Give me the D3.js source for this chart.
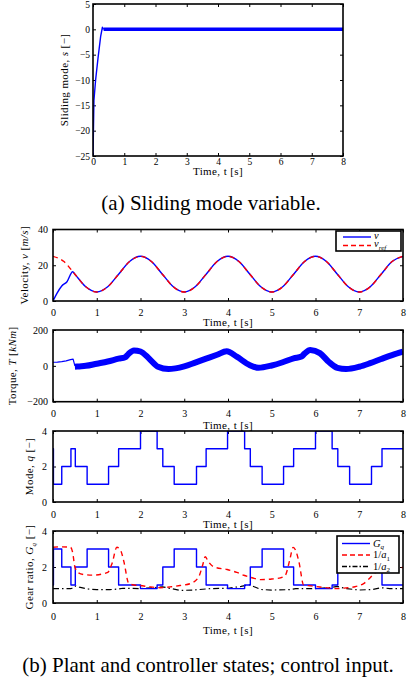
<!DOCTYPE html>
<html>
<head>
<meta charset="utf-8">
<script src="https://d3js.org/d3.v7.min.js"></script>
<style>
  body { margin: 0; background: #fff; }
  svg text, svg .tick text { font-family: "Liberation Serif", "Times New Roman", Times, "DejaVu Serif", serif; fill: #000; }
  .tick line { stroke: #000; }
  .lbl { font-size: 11px; letter-spacing: 0.4px; }
  .leg { font-size: 10.5px; }
  .cap { font-size: 21px; }
</style>
</head>
<body>
<svg width="409" height="681"></svg>
<script>
// time axis
const timeTicks = [0, 1, 2, 3, 4, 5, 6, 7, 8];

// (a) sliding mode variable s
const slideT = [0, 0.03, 0.085, 0.16, 0.245, 0.3, 0.34];
const slideS = [-25, -14, -9.9, -5.7, -1.4, 0.4, 0];
const chatterT = [0.34, 8];
const chatterS = [0, 0];

// velocity reference and measured velocity
const refT = [0,0.25,0.5,0.75,1,1.25,1.5,1.75,2,2.25,2.5,2.75,3,3.25,3.5,3.75,4,4.25,4.5,4.75,5,5.25,5.5,5.75,6,6.25,6.5,6.75,7,7.25,7.5,7.75,8];
const refV = [25,22.07,15,7.93,5,7.93,15,22.07,25,22.07,15,7.93,5,7.93,15,22.07,25,22.07,15,7.93,5,7.93,15,22.07,25,22.07,15,7.93,5,7.93,15,22.07,25];
const velT = [0,0.09,0.2,0.32,0.45,0.5,0.75,1,1.25,1.5,1.75,2,2.25,2.5,2.75,3,3.25,3.5,3.75,4,4.25,4.5,4.75,5,5.25,5.5,5.75,6,6.25,6.5,6.75,7,7.25,7.5,7.75,8];
const velV = [0,4.3,8.4,10.8,16.4,15,7.93,5,7.93,15,22.07,25,22.07,15,7.93,5,7.93,15,22.07,25,22.07,15,7.93,5,7.93,15,22.07,25,22.07,15,7.93,5,7.93,15,22.07,25];

// torque: start-up segment and chattering band centre
const tqStartT = [0, 0.1, 0.2, 0.3, 0.4, 0.46, 0.5];
const tqStartV = [20, 21, 24, 28, 35, 38, 0];
const bandT = [0.5,0.6,0.75,1.0,1.25,1.5,1.65,1.72,1.85,2.0,2.2,2.4,2.64,2.8,3.0,3.25,3.5,3.75,3.97,4.2,4.5,4.7,5.0,5.25,5.5,5.68,5.75,5.88,6.1,6.3,6.5,6.7,7.0,7.25,7.5,7.75,8.0];
const bandV = [-5,-3,0,12,24,40,48,65,86,80,40,-5,-18,-14,-3,18,40,62,81,51,4,-11,2,20,42,52,68,88,71,23,-11,-18,-5,15,38,60,79];

// mode q (switching instants)
const modeT = [0,0.01,0.2,0.41,0.51,0.78,1.27,1.5,2.0,2.38,2.51,2.77,3.28,3.5,3.99,4.38,4.51,4.78,5.27,5.5,6.0,6.38,6.51,6.78,7.28,7.52];
const modeQ = [3,1,2,3,2,1,2,3,4,3,2,1,2,3,4,3,2,1,2,3,4,3,2,1,2,3];
// gear ratio for q = 1..4
const gearOfMode = [3, 2, 1, 0.8];

// 1/a1 and 1/a2
const a1T = [0,0.2,0.4,0.45,0.5,0.58,0.7,0.9,1.1,1.25,1.35,1.46,1.55,1.62,1.73,1.85,2.0,2.2,2.45,2.7,2.9,3.14,3.33,3.42,3.48,3.55,3.68,3.98,4.2,4.36,4.55,4.74,5.0,5.2,5.31,5.41,5.49,5.55,5.62,5.73,5.9,6.1,6.3,6.49,6.7,6.87,7.1,7.3,7.45,7.52,7.6,7.7,7.85,8];
const a1V = [3.1,3.12,3.1,2.8,2.0,1.68,1.58,1.55,1.6,1.7,2.2,3.1,2.9,2.3,1.1,1.0,0.97,0.9,0.85,0.9,0.97,1.08,1.45,2.1,2.57,2.3,2.0,1.86,1.7,1.54,1.4,1.3,1.33,1.4,1.54,2.38,3.09,2.9,2.3,1.0,0.95,0.89,0.84,0.8,0.84,0.89,1.08,1.54,2.0,2.6,3.0,2.4,2.0,1.97];
const a2T = [0,0.4,0.45,0.52,0.6,0.8,1.0,1.3,1.5,1.6,2.0,2.3,2.5,2.7,2.9,3.2,3.5,3.6,4.0,4.3,4.5,4.6,4.75,5.0,5.4,5.55,6.0,6.3,6.5,6.7,7.0,7.3,7.5,7.7,8.0];
const a2V = [0.8,0.8,0.82,0.95,0.88,0.78,0.74,0.74,0.78,0.82,0.8,0.85,0.9,0.8,0.7,0.72,0.78,0.8,0.82,0.92,1.02,0.9,0.75,0.72,0.74,0.8,0.8,0.85,0.92,0.8,0.72,0.75,0.85,0.8,0.8];

const svg = d3.select("svg");
const blue = "#0000ff", red = "#ff0000";
let clipId = 0;

// write text pieces; subscripts drop by dy and come back up
function addParts(t, parts) {
  let down = false;
  parts.forEach(p => {
    const s = t.append("tspan").text(p.t);
    if (p.i) s.attr("font-style", "italic");
    if (p.sub) { s.attr("font-size", "7px"); if (!down) { s.attr("dy", 2.5); down = true; } }
    else if (down) { s.attr("dy", -2.5); down = false; }
  });
}

function panel(c) {
  const x = d3.scaleLinear().domain([0, 8]).range([c.x0, c.x1]);
  const y = d3.scaleLinear().domain(c.yDom).range([c.y1, c.y0]);
  const g = svg.append("g");
  const id = "clip" + (clipId++);
  g.append("clipPath").attr("id", id).append("rect")
    .attr("x", c.x0).attr("y", c.y0).attr("width", c.x1 - c.x0).attr("height", c.y1 - c.y0);

  const fs = c.tickFs || 10;
  g.append("g").attr("transform", `translate(0,${c.y1})`)
    .call(d3.axisBottom(x).tickValues(timeTicks).tickSize(-3).tickPadding(c.xPad).tickFormat(d3.format("d")));
  g.append("g").attr("transform", `translate(0,${c.y0})`)
    .call(d3.axisTop(x).tickValues(timeTicks).tickSize(-3).tickFormat(""));
  g.append("g").attr("transform", `translate(${c.x0},0)`)
    .call(d3.axisLeft(y).tickValues(c.yTicks).tickSize(-3).tickPadding(c.yPad).tickFormat(d3.format("d")));
  g.append("g").attr("transform", `translate(${c.x1},0)`)
    .call(d3.axisRight(y).tickValues(c.yTicks).tickSize(-3).tickFormat(""));
  g.selectAll(".domain").remove();
  g.selectAll(".tick text").attr("font-size", fs);

  g.append("text").attr("class", "lbl").attr("text-anchor", "middle")
    .attr("x", (c.x0 + c.x1) / 2).attr("y", c.tly).text("Time, t [s]");

  const yl = g.append("text").attr("class", "lbl").attr("text-anchor", "middle")
    .attr("transform", `translate(${c.ylx},${(c.y0 + c.y1) / 2}) rotate(-90)`);
  addParts(yl, c.ylab);

  const plot = g.append("g").attr("clip-path", `url(#${id})`);
  return { g, x, y, plot, c };
}

function drawBox(p) {
  const c = p.c;
  p.g.append("rect").attr("x", c.x0).attr("y", c.y0)
    .attr("width", c.x1 - c.x0).attr("height", c.y1 - c.y0)
    .attr("fill", "none").attr("stroke", "#000").attr("stroke-width", 1.6);
}

function addLine(p, xs, ys, opt) {
  const line = d3.line().x(i => p.x(xs[i])).y(i => p.y(ys[i])).curve(opt.curve || d3.curveLinear);
  p.plot.append("path").attr("d", line(d3.range(xs.length)))
    .attr("fill", "none").attr("stroke", opt.color).attr("stroke-width", opt.w || 1.4)
    .attr("stroke-dasharray", opt.dash || null).attr("stroke-linejoin", "round");
}

function legend(p, box, entries) {
  const lg = p.g.append("g");
  lg.append("rect").attr("x", box.x).attr("y", box.y).attr("width", box.w).attr("height", box.h)
    .attr("fill", "#fff").attr("stroke", "#000").attr("stroke-width", 1.6);
  entries.forEach((e, k) => {
    const yy = box.y + box.r0 + k * box.dr;
    lg.append("line").attr("x1", box.x + box.l0).attr("x2", box.x + box.l1)
      .attr("y1", yy).attr("y2", yy).attr("stroke", e.color).attr("stroke-width", 1.4)
      .attr("stroke-dasharray", e.dash || null);
    const t = lg.append("text").attr("class", "leg").attr("x", box.x + box.l1 + 3).attr("y", yy + box.ty)
      .attr("font-size", box.fs);
    addParts(t, e.parts);
  });
}

// ---- (a) sliding mode
const p1 = panel({ x0: 93, x1: 343, y0: 4, y1: 156, yDom: [-25, 5], yTicks: [-25, -20, -15, -10, -5, 0, 5],
  xPad: 2, yPad: 3, tly: 175, ylx: 68, tickFs: 9.5,
  ylab: [{ t: "Sliding mode, " }, { t: "s", i: true }, { t: " [\u2212]" }] });
addLine(p1, slideT, slideS, { color: blue, w: 1.4 });
addLine(p1, chatterT, chatterS, { color: blue, w: 3.5 });
drawBox(p1);

svg.append("text").attr("class", "cap").attr("text-anchor", "middle")
  .attr("x", 211).attr("y", 210).text("(a) Sliding mode variable.");

// ---- velocity
const p2 = panel({ x0: 53, x1: 403, y0: 229.5, y1: 301, yDom: [0, 40], yTicks: [0, 20, 40],
  xPad: 8, yPad: 5, tly: 326, ylx: 28,
  ylab: [{ t: "Velocity, " }, { t: "v", i: true }, { t: " [" }, { t: "m/s", i: true }, { t: "]" }] });
addLine(p2, velT, velV, { color: blue, w: 1.4, curve: d3.curveMonotoneX });
addLine(p2, refT, refV, { color: red, w: 1.4, dash: "5,4", curve: d3.curveMonotoneX });
drawBox(p2);
legend(p2, { x: 336, y: 231, w: 65, h: 20, r0: 6, dr: 8.5, l0: 7, l1: 35, ty: 1.5, fs: 9.5 }, [
  { color: blue, parts: [{ t: "v", i: true }] },
  { color: red, dash: "5,3", parts: [{ t: "v", i: true }, { t: "ref", i: true, sub: true }] }
]);

// ---- torque
const p3 = panel({ x0: 53, x1: 403, y0: 330, y1: 401.7, yDom: [-200, 200], yTicks: [-200, 0, 200],
  xPad: 8, yPad: 5, tly: 429, ylx: 16,
  ylab: [{ t: "Torque, " }, { t: "T", i: true }, { t: " [" }, { t: "kNm", i: true }, { t: "]" }] });
addLine(p3, tqStartT, tqStartV, { color: blue, w: 1.2 });
addLine(p3, bandT, bandV, { color: blue, w: 6, curve: d3.curveMonotoneX });
drawBox(p3);

// ---- mode
const p4 = panel({ x0: 53, x1: 403, y0: 431, y1: 502, yDom: [0, 4], yTicks: [0, 2, 4],
  xPad: 8.5, yPad: 6, tly: 528, ylx: 33,
  ylab: [{ t: "Mode, " }, { t: "q", i: true }, { t: " [\u2212]" }] });
addLine(p4, modeT.concat([8]), modeQ.concat([modeQ[modeQ.length - 1]]), { color: blue, w: 1.4, curve: d3.curveStepAfter });
drawBox(p4);

// ---- gear ratio
const gearV = modeQ.map(q => gearOfMode[q - 1]);
const p5 = panel({ x0: 53, x1: 403, y0: 531, y1: 603, yDom: [0, 4], yTicks: [0, 2, 4],
  xPad: 10, yPad: 6, tly: 634, ylx: 33,
  ylab: [{ t: "Gear ratio, " }, { t: "G", i: true }, { t: "q", i: true, sub: true }, { t: " [\u2212]" }] });
addLine(p5, a2T, a2V, { color: "#000", w: 1.2, dash: "6,3,1.5,3" });
addLine(p5, modeT.concat([8]), gearV.concat([gearV[gearV.length - 1]]), { color: blue, w: 1.4, curve: d3.curveStepAfter });
addLine(p5, a1T, a1V, { color: red, w: 1.4, dash: "5,4", curve: d3.curveMonotoneX });
drawBox(p5);
legend(p5, { x: 337, y: 536, w: 62, h: 37, r0: 7.5, dr: 11.5, l0: 5, l1: 33, ty: 3, fs: 11 }, [
  { color: blue, parts: [{ t: "G", i: true }, { t: "q", i: true, sub: true }] },
  { color: red, dash: "5,3", parts: [{ t: "1/" }, { t: "a", i: true }, { t: "1", sub: true }] },
  { color: "#000", dash: "5,2,1.5,2", parts: [{ t: "1/" }, { t: "a", i: true }, { t: "2", sub: true }] }
]);

svg.append("text").attr("class", "cap").attr("text-anchor", "middle")
  .attr("x", 208).attr("y", 672).text("(b) Plant and controller states; control input.");
</script>
</body>
</html>
